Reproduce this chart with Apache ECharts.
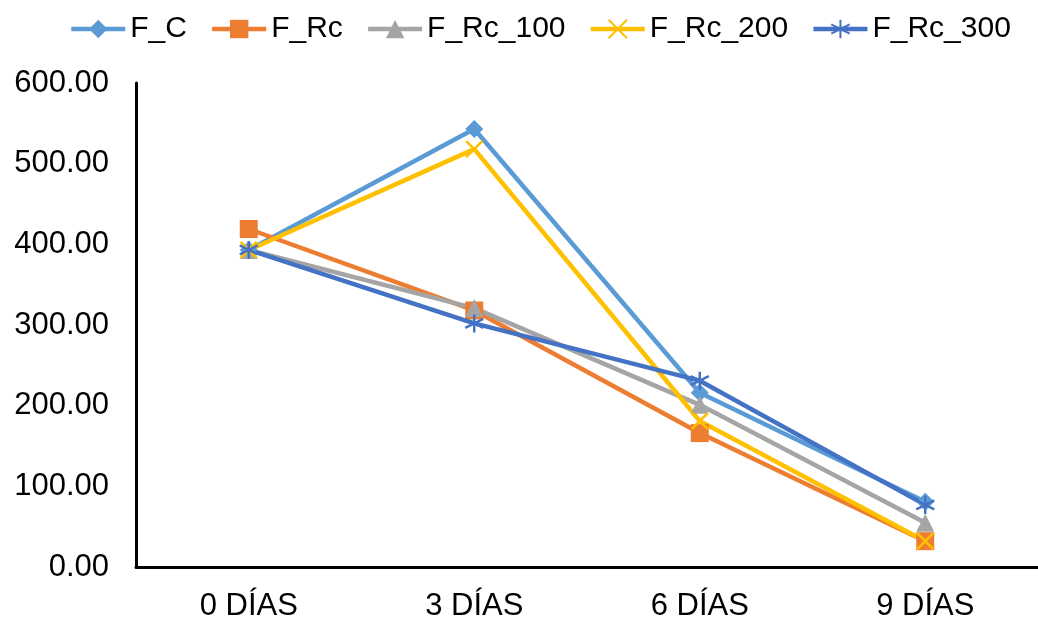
<!DOCTYPE html>
<html>
<head>
<meta charset="utf-8">
<script src="https://cdn.jsdelivr.net/npm/echarts@6/dist/echarts.min.js"></script>
<style>
  html, body { margin: 0; padding: 0; background: #fff; }
  #chart { width: 1038px; height: 624px; }
</style>
</head>
<body>
<div id="chart"></div>
<script>
// datos
var dias = ['0 DÍAS', '3 DÍAS', '6 DÍAS', '9 DÍAS'];
var fC = [393, 543, 216, 81];
var fRc = [419, 318, 166, 32];
var fRc100 = [393, 321, 201, 55];
var fRc200 = [393, 518, 181, 32];
var fRc300 = [393, 302, 231, 77];

var crossPath = 'path://M-10,-10L10,10M-10,10L10,-10';
var starPath = 'path://M0,-11L0,11M-9.5,-5.5L9.5,5.5M-9.5,5.5L9.5,-5.5';

function serie(name, data, color, symbol, size, stroked) {
    return {
        name: name,
        type: 'line',
        data: data,
        symbol: symbol,
        symbolSize: size,
        showAllSymbol: true,
        lineStyle: { color: color, width: 4.5 },
        itemStyle: stroked
            ? { color: '#fff', borderColor: color, borderWidth: 2.5 }
            : { color: color, borderColor: color, borderWidth: 0 },
        emphasis: { disabled: true }
    };
}

var chart = echarts.init(document.getElementById('chart'));
var option = {
    animation: false,
    textStyle: { fontFamily: 'Liberation Sans, Arial, sans-serif' },
    legend: {
        top: 9,
        left: 64,
        itemWidth: 54,
        itemHeight: 23,
        itemGap: 23,
        lineStyle: { width: 4.5 },
        textStyle: { fontSize: 30, color: '#000' },
        data: ['F_C', 'F_Rc', 'F_Rc_100', 'F_Rc_200', 'F_Rc_300']
    },
    grid: { left: 136, right: 0, top: 83, bottom: 57 },
    xAxis: {
        type: 'category',
        data: dias,
        boundaryGap: true,
        axisLine: { lineStyle: { color: '#000', width: 3 } },
        axisTick: { show: false },
        axisLabel: { color: '#000', fontSize: 31, margin: 24 }
    },
    yAxis: {
        type: 'value',
        min: 0,
        max: 600,
        interval: 100,
        axisLine: { show: true, lineStyle: { color: '#000', width: 3 } },
        axisTick: { show: false },
        splitLine: { show: false },
        axisLabel: {
            color: '#000',
            fontSize: 31,
            margin: 27,
            formatter: function (v) { return v.toFixed(2); }
        }
    },
    series: [
        serie('F_C', fC, '#5B9BD5', 'diamond', 18, false),
        serie('F_Rc', fRc, '#ED7D31', 'rect', 18, false),
        serie('F_Rc_100', fRc100, '#A5A5A5', 'triangle', 18, false),
        serie('F_Rc_200', fRc200, '#FFC000', crossPath, 16, true),
        serie('F_Rc_300', fRc300, '#4472C4', starPath, 18, true)
    ]
};
chart.setOption(option);
</script>
</body>
</html>
